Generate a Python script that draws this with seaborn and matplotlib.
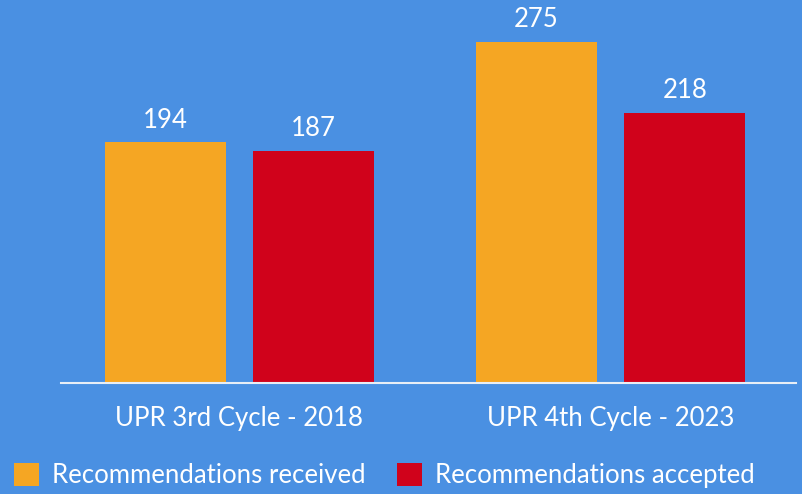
import matplotlib
matplotlib.use('Agg')
import matplotlib.pyplot as plt
import seaborn as sns
import pandas as pd

cycles = ['UPR 3rd Cycle - 2018', 'UPR 4th Cycle - 2023']
received = [194, 275]
accepted = [187, 218]
series_names = ['Recommendations received', 'Recommendations accepted']

bg = '#4a90e2'
palette = ['#f5a623', '#d0021b']

df = pd.DataFrame({
    'cycle': cycles * 2,
    'count': received + accepted,
    'series': [series_names[0]] * 2 + [series_names[1]] * 2,
})

sns.set_theme(style='white')
plt.rcParams['font.family'] = ['Lato', 'DejaVu Sans']

fig = plt.figure(figsize=(8.02, 4.94), dpi=100, facecolor=bg)
ax = fig.add_axes([61 / 802, (494 - 382.5) / 494, (796 - 61) / 802, 382.5 / 494])
ax.set_facecolor(bg)

sns.barplot(data=df, x='cycle', y='count', hue='series', palette=palette,
            width=0.8, gap=0.185, saturation=1, linewidth=0, ax=ax, legend=True)

for cont in ax.containers:
    ax.bar_label(cont, padding=7, color='white', fontsize=18.5)

ax.set_xlim(-0.481, 1.5)
ax.set_ylim(0, 309)
ax.set_xlabel('')
ax.set_ylabel('')
ax.set_yticks([])
ax.tick_params(axis='x', colors='white', labelsize=18.5, length=0, pad=17)
for s in ['top', 'right', 'left']:
    ax.spines[s].set_visible(False)
ax.spines['bottom'].set_color('#e8eef6')
ax.spines['bottom'].set_linewidth(1.5)

handles, labels = ax.get_legend_handles_labels()
ax.get_legend().remove()
fig.legend(handles, labels, loc='lower left', bbox_to_anchor=(-0.012, -0.035),
           ncol=2, frameon=False, fontsize=18.5, labelcolor='white',
           handlelength=1.0, handleheight=1.0, handletextpad=0.5,
           columnspacing=1.2)

fig.savefig('out.png', dpi=100, facecolor=bg)
